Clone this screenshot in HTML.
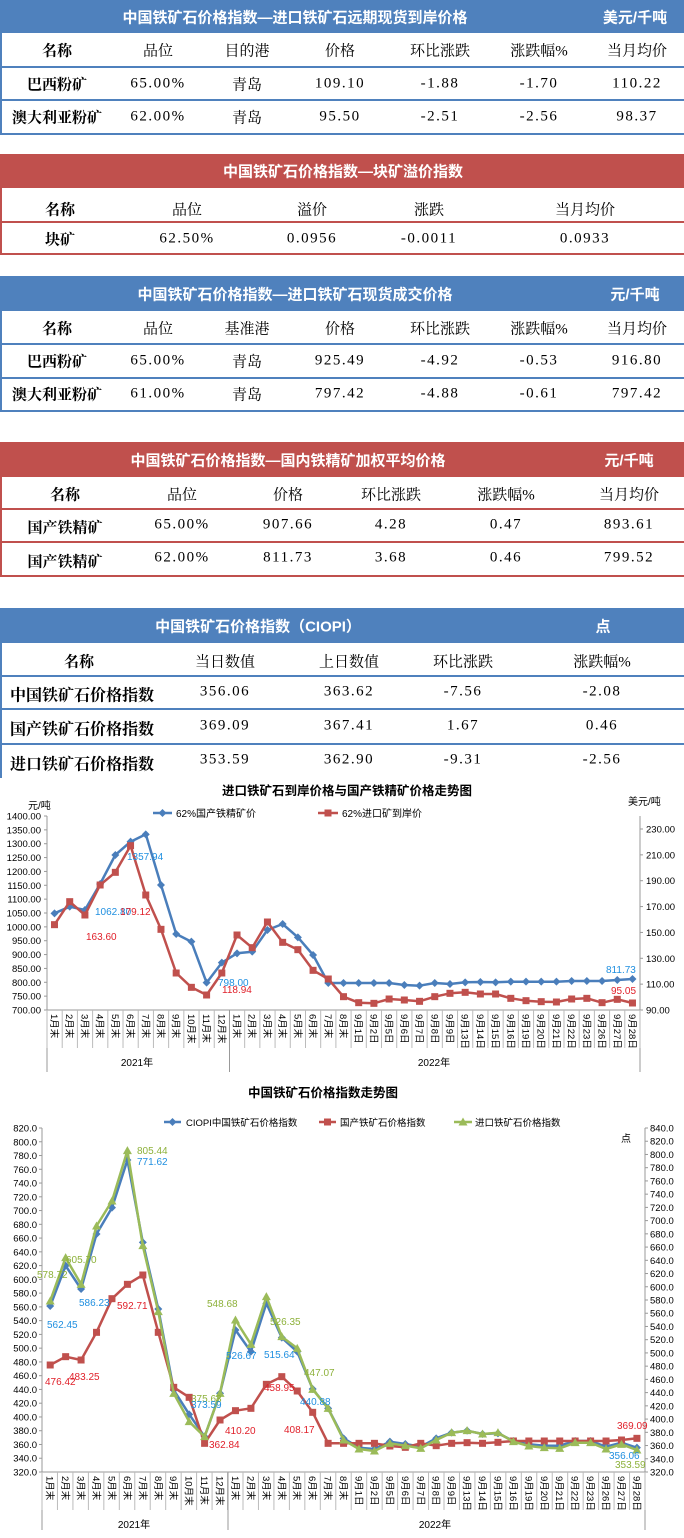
<!DOCTYPE html>
<html><head><meta charset="utf-8"><style>
*{margin:0;padding:0;box-sizing:border-box}
body{width:684px;height:1538px;background:#fff;position:relative;overflow:hidden;font-family:"Liberation Serif","Noto Serif CJK SC",serif}
.hd{position:absolute;left:0;width:684px;color:#fff;font-family:"Liberation Sans","Noto Sans CJK SC",sans-serif;font-weight:bold;font-size:15px}
.blue{background:#4f81bd}.red{background:#c0504d}
.t{position:absolute;transform:translate(-50%,-50%);white-space:nowrap;font-size:15px;color:#000}
.hd .t{color:#fff;font-size:15px}
.b{font-weight:bold}
.ln{position:absolute;left:0;width:684px;height:2px}
.vl{position:absolute;left:0;width:2px}
.num{letter-spacing:1.5px}
.l{position:absolute;transform:translateY(-50%);white-space:nowrap;font-size:16px;font-weight:bold;left:10px}
</style></head><body>

<!-- Table 1 -->
<div class="hd blue" style="top:0;height:33px">
<span class="t" style="left:295px;top:17px">中国铁矿石价格指数—进口铁矿石远期现货到岸价格</span>
<span class="t" style="left:635px;top:17px">美元/千吨</span></div>
<div class="ln" style="top:66px;background:#4f81bd"></div>
<div class="ln" style="top:99px;background:#4f81bd"></div>
<div class="ln" style="top:133px;background:#4f81bd"></div>
<div class="vl" style="top:33px;height:101px;background:#4f81bd"></div>
<span class="t b" style="left:57px;top:50px">名称</span><span class="t" style="left:158px;top:50px">品位</span><span class="t" style="left:247px;top:50px">目的港</span><span class="t" style="left:340px;top:50px">价格</span><span class="t" style="left:440px;top:50px">环比涨跌</span><span class="t" style="left:539px;top:50px">涨跌幅%</span><span class="t" style="left:637px;top:50px">当月均价</span>
<span class="t b" style="left:57px;top:84px">巴西粉矿</span><span class="t num" style="left:158px;top:84px">65.00%</span><span class="t" style="left:247px;top:84px">青岛</span><span class="t num" style="left:340px;top:84px">109.10</span><span class="t num" style="left:440px;top:84px">-1.88</span><span class="t num" style="left:539px;top:84px">-1.70</span><span class="t num" style="left:637px;top:84px">110.22</span>
<span class="t b" style="left:57px;top:117px">澳大利亚粉矿</span><span class="t num" style="left:158px;top:117px">62.00%</span><span class="t" style="left:247px;top:117px">青岛</span><span class="t num" style="left:340px;top:117px">95.50</span><span class="t num" style="left:440px;top:117px">-2.51</span><span class="t num" style="left:539px;top:117px">-2.56</span><span class="t num" style="left:637px;top:117px">98.37</span>

<!-- Table 2 -->
<div class="hd red" style="top:154px;height:34px">
<span class="t" style="left:343px;top:17px">中国铁矿石价格指数—块矿溢价指数</span></div>
<div class="ln" style="top:221px;background:#c0504d"></div>
<div class="ln" style="top:253px;background:#c0504d"></div>
<div class="vl" style="top:188px;height:67px;background:#c0504d"></div>
<span class="t b" style="left:60px;top:209px">名称</span><span class="t" style="left:187px;top:209px">品位</span><span class="t" style="left:312px;top:209px">溢价</span><span class="t" style="left:429px;top:209px">涨跌</span><span class="t" style="left:585px;top:209px">当月均价</span>
<span class="t b" style="left:60px;top:239px">块矿</span><span class="t num" style="left:187px;top:239px">62.50%</span><span class="t num" style="left:312px;top:239px">0.0956</span><span class="t num" style="left:429px;top:239px">-0.0011</span><span class="t num" style="left:585px;top:239px">0.0933</span>

<!-- Table 3 -->
<div class="hd blue" style="top:276px;height:35px">
<span class="t" style="left:295px;top:18px">中国铁矿石价格指数—进口铁矿石现货成交价格</span>
<span class="t" style="left:635px;top:18px">元/千吨</span></div>
<div class="ln" style="top:343px;background:#4f81bd"></div>
<div class="ln" style="top:377px;background:#4f81bd"></div>
<div class="ln" style="top:410px;background:#4f81bd"></div>
<div class="vl" style="top:311px;height:100px;background:#4f81bd"></div>
<span class="t b" style="left:57px;top:328px">名称</span><span class="t" style="left:158px;top:328px">品位</span><span class="t" style="left:247px;top:328px">基准港</span><span class="t" style="left:340px;top:328px">价格</span><span class="t" style="left:440px;top:328px">环比涨跌</span><span class="t" style="left:539px;top:328px">涨跌幅%</span><span class="t" style="left:637px;top:328px">当月均价</span>
<span class="t b" style="left:57px;top:361px">巴西粉矿</span><span class="t num" style="left:158px;top:361px">65.00%</span><span class="t" style="left:247px;top:361px">青岛</span><span class="t num" style="left:340px;top:361px">925.49</span><span class="t num" style="left:440px;top:361px">-4.92</span><span class="t num" style="left:539px;top:361px">-0.53</span><span class="t num" style="left:637px;top:361px">916.80</span>
<span class="t b" style="left:57px;top:394px">澳大利亚粉矿</span><span class="t num" style="left:158px;top:394px">61.00%</span><span class="t" style="left:247px;top:394px">青岛</span><span class="t num" style="left:340px;top:394px">797.42</span><span class="t num" style="left:440px;top:394px">-4.88</span><span class="t num" style="left:539px;top:394px">-0.61</span><span class="t num" style="left:637px;top:394px">797.42</span>

<!-- Table 4 -->
<div class="hd red" style="top:442px;height:35px">
<span class="t" style="left:288px;top:18px">中国铁矿石价格指数—国内铁精矿加权平均价格</span>
<span class="t" style="left:629px;top:18px">元/千吨</span></div>
<div class="ln" style="top:508px;background:#c0504d"></div>
<div class="ln" style="top:541px;background:#c0504d"></div>
<div class="ln" style="top:575px;background:#c0504d"></div>
<div class="vl" style="top:477px;height:100px;background:#c0504d"></div>
<span class="t b" style="left:65px;top:494px">名称</span><span class="t" style="left:182px;top:494px">品位</span><span class="t" style="left:288px;top:494px">价格</span><span class="t" style="left:391px;top:494px">环比涨跌</span><span class="t" style="left:506px;top:494px">涨跌幅%</span><span class="t" style="left:629px;top:494px">当月均价</span>
<span class="t b" style="left:65px;top:527px">国产铁精矿</span><span class="t num" style="left:182px;top:525px">65.00%</span><span class="t num" style="left:288px;top:525px">907.66</span><span class="t num" style="left:391px;top:525px">4.28</span><span class="t num" style="left:506px;top:525px">0.47</span><span class="t num" style="left:629px;top:525px">893.61</span>
<span class="t b" style="left:65px;top:561px">国产铁精矿</span><span class="t num" style="left:182px;top:558px">62.00%</span><span class="t num" style="left:288px;top:558px">811.73</span><span class="t num" style="left:391px;top:558px">3.68</span><span class="t num" style="left:506px;top:558px">0.46</span><span class="t num" style="left:629px;top:558px">799.52</span>

<!-- Table 5 -->
<div class="hd blue" style="top:608px;height:35px">
<span class="t" style="left:258px;top:18px">中国铁矿石价格指数（CIOPI）</span>
<span class="t" style="left:603px;top:18px">点</span></div>
<div class="ln" style="top:675px;background:#4f81bd"></div>
<div class="ln" style="top:708px;background:#4f81bd"></div>
<div class="ln" style="top:743px;background:#4f81bd"></div>
<div class="vl" style="top:643px;height:135px;background:#4f81bd"></div>
<span class="t b" style="left:79px;top:661px">名称</span><span class="t" style="left:225px;top:661px">当日数值</span><span class="t" style="left:349px;top:661px">上日数值</span><span class="t" style="left:463px;top:661px">环比涨跌</span><span class="t" style="left:602px;top:661px">涨跌幅%</span>
<span class="l" style="top:694px">中国铁矿石价格指数</span><span class="t num" style="left:225px;top:692px">356.06</span><span class="t num" style="left:349px;top:692px">363.62</span><span class="t num" style="left:463px;top:692px">-7.56</span><span class="t num" style="left:602px;top:692px">-2.08</span>
<span class="l" style="top:728px">国产铁矿石价格指数</span><span class="t num" style="left:225px;top:726px">369.09</span><span class="t num" style="left:349px;top:726px">367.41</span><span class="t num" style="left:463px;top:726px">1.67</span><span class="t num" style="left:602px;top:726px">0.46</span>
<span class="l" style="top:763px">进口铁矿石价格指数</span><span class="t num" style="left:225px;top:760px">353.59</span><span class="t num" style="left:349px;top:760px">362.90</span><span class="t num" style="left:463px;top:760px">-9.31</span><span class="t num" style="left:602px;top:760px">-2.56</span>

<svg id="c" width="684" height="1538" style="position:absolute;left:0;top:0" xmlns="http://www.w3.org/2000/svg" font-family="Liberation Sans, Noto Sans CJK SC, sans-serif"></svg>

<script>
var S=document.getElementById('c');var h='';
function T(x,y,s,o){o=o||{};h+='<text x="'+x+'" y="'+y+'" font-size="'+(o.fs||10)+'" fill="'+(o.c||'#000')+'" text-anchor="'+(o.a||'start')+'"'+(o.b?' font-weight="bold"':'')+(o.tr?' transform="'+o.tr+'"':'')+'>'+s+'</text>';}
function L(x1,y1,x2,y2,c,w){h+='<line x1="'+x1+'" y1="'+y1+'" x2="'+x2+'" y2="'+y2+'" stroke="'+(c||'#888')+'" stroke-width="'+(w||1)+'"/>';}
var cats=[];for(var i=1;i<=12;i++)cats.push(i+'月末');for(i=1;i<=8;i++)cats.push(i+'月末');
[1,2,5,6,7,8,9,13,14,15,16,19,20,21,22,23,26,27,28].forEach(function(d){cats.push('9月'+d+'日')});
function marker(t,x,y,c){
 if(t=='d')h+='<polygon points="'+x+','+(y-4)+' '+(x+4)+','+y+' '+x+','+(y+4)+' '+(x-4)+','+y+'" fill="'+c+'"/>';
 else if(t=='s')h+='<rect x="'+(x-3.5)+'" y="'+(y-3.5)+'" width="7" height="7" fill="'+c+'"/>';
 else h+='<polygon points="'+x+','+(y-4.5)+' '+(x+4.5)+','+(y+3.5)+' '+(x-4.5)+','+(y+3.5)+'" fill="'+c+'"/>';
}
function series(zy,x0,dx,y0,c,t){
 var p=zy.map(function(v,i){return (x0+i*dx).toFixed(1)+','+(y0+v/3).toFixed(1)}).join(' ');
 h+='<polyline points="'+p+'" fill="none" stroke="'+c+'" stroke-width="2.5" stroke-linejoin="round"/>';
 zy.forEach(function(v,i){marker(t,x0+i*dx,y0+v/3,c)});
}
function axes(pl,pr,top,bot,sepY,x0,dx,yearY,ySep,lab1x,lab2x){
 L(pl,top,pl,sepY,'#999');L(pr,top,pr,sepY,'#999');L(pl,bot,pr,bot,'#999');
 for(var i=0;i<=39;i++){var x=pl+i*(pr-pl)/39;L(x,bot,x,bot+38,'#bbb');}
 L(ySep,bot,ySep,sepY,'#999');
 cats.forEach(function(s,i){var x=x0+i*dx-3.5;T(x,bot+4,s,{fs:9.5,tr:'rotate(90 '+x+' '+(bot+4)+')'});});
 T(lab1x,yearY,'2021年',{fs:10,a:'middle'});T(lab2x,yearY,'2022年',{fs:10,a:'middle'});
}
/* Chart 1 */
T(347,795,'进口铁矿石到岸价格与国产铁精矿价格走势图',{fs:12.5,b:1,a:'middle'});
T(28,809,'元/吨',{fs:10});T(628,805,'美元/吨',{fs:10});
for(i=0;i<15;i++){var y=816+i*(194/14);T(41,y+3.5,(1400-50*i).toFixed(2),{fs:9.5,a:'end'});L(44,y,47,y,'#999');}
for(i=0;i<8;i++){var y=829+i*(181/7);T(646,y+3.5,(230-20*i).toFixed(2),{fs:9.5});L(640,y,643,y,'#999');}
axes(47,640,816,1010,1072,54.5,15.21,1066,229.5,137,434);
L(153,813,172,813,'#4a7ebb',2.5);marker('d',162.5,813,'#4a7ebb');T(176,817,'62%国产铁精矿价',{fs:10});
L(318,813,338,813,'#c0504d',2.5);marker('s',328,813,'#c0504d');T(342,817,'62%进口矿到岸价',{fs:10});
var b1=[415,395,405,327,240,200,178,330,477,500,623,563,535,530,465,447,487,540,624,624,624,624,624,630,632,624,627,622,621,622,620,620,620,620,618,618,618,615,612];
var r1=[449,380,420,330,292,212,360,463,594,637,660,594,480,518,441,502,524,586,612,665,683,685,672,675,679,665,655,652,657,657,670,677,680,681,672,670,683,673,684];
series(b1,54.5,15.21,775,'#4a7ebb','d');series(r1,54.5,15.21,775,'#c0504d','s');
var B='#1f8fe0',R='#e0202a',G='#8db13a';
T(127,860,'1357.94',{c:B});T(95,915,'1062.80',{c:B});T(120,915,'179.12',{c:R});T(86,940,'163.60',{c:R});
T(218,986,'798.00',{c:B});T(222,993,'118.94',{c:R});T(606,973,'811.73',{c:B});T(611,994,'95.05',{c:R});
/* Chart 2 */
T(323,1097,'中国铁矿石价格指数走势图',{fs:12.5,b:1,a:'middle'});
for(i=0;i<26;i++){var y=1128+i*(344/25);T(37,y+3.5,(820-20*i).toFixed(1),{fs:9.5,a:'end'});L(39,y,42,y,'#999');}
for(i=0;i<27;i++){var y=1128+i*(344/26);T(650,y+3.5,(840-20*i).toFixed(1),{fs:9.5});L(645,y,648,y,'#999');}
T(621,1142,'点',{fs:10});
axes(42,645,1128,1472,1530,50.2,15.44,1528,228,134,435);
L(164,1122,181,1122,'#4a7ebb',2.5);marker('d',172.5,1122,'#4a7ebb');T(186,1126,'CIOPI中国铁矿石价格指数',{fs:9.5});
L(319,1122,336,1122,'#c0504d',2.5);marker('s',327.5,1122,'#c0504d');T(340,1126,'国产铁矿石价格指数',{fs:9.5});
L(454,1122,472,1122,'#9bbb59',2.5);marker('t',463,1122,'#9bbb59');T(475,1126,'进口铁矿石价格指数',{fs:9.5});
var b2=[678,557,627,462,383,240,487,687,930,1003,1070,940,750,815,670,773,815,927,985,1075,1103,1107,1085,1092,1100,1075,1058,1052,1062,1060,1083,1093,1097,1097,1083,1083,1100,1088,1103];
var g2=[663,533,613,438,363,212,497,695,940,1025,1070,940,720,793,650,770,805,928,985,1080,1107,1113,1090,1097,1105,1080,1058,1052,1062,1058,1085,1098,1103,1105,1088,1088,1107,1093,1110];
var r2=[855,830,840,757,656,613,585,757,922,952,1090,1020,992,985,913,890,933,997,1090,1090,1090,1090,1098,1102,1090,1097,1090,1088,1090,1087,1083,1083,1083,1083,1083,1083,1083,1080,1075];
series(b2,50.2,15.44,1080,'#4a7ebb','d');series(r2,50.2,15.44,1080,'#c0504d','s');series(g2,50.2,15.44,1080,'#9bbb59','t');
[[37,1278,'578.72',G],[66,1263,'605.70',G],[47,1328,'562.45',B],[79,1306,'586.23',B],[117,1309,'592.71',R],[137,1154,'805.44',G],[137,1165,'771.62',B],[45,1385,'476.42',R],[69,1380,'483.25',R],[207,1307,'548.68',G],[270,1325,'526.35',G],[226,1359,'526.67',B],[264,1358,'515.64',B],[304,1376,'447.07',G],[300,1405,'440.88',B],[264,1391,'458.95',R],[191,1402,'375.63',G],[191,1408,'373.59',B],[225,1434,'410.20',R],[284,1433,'408.17',R],[209,1448,'362.84',R],[617,1429,'369.09',R],[609,1459,'356.06',B],[615,1468,'353.59',G]].forEach(function(a){T(a[0],a[1],a[2],{c:a[3]})});
S.innerHTML=h;
</script>
</body></html>
